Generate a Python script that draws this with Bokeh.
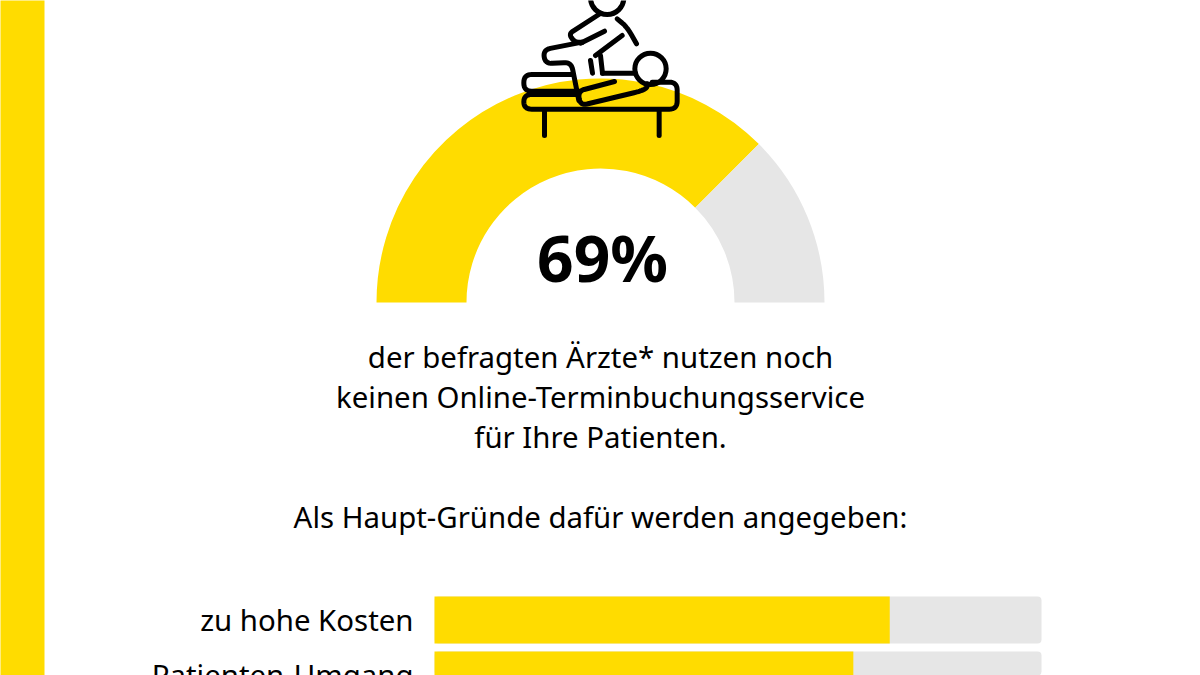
import math
from bokeh.core.properties import value
from bokeh.embed import file_html
from bokeh.models import ColumnDataSource, Range1d
from bokeh.plotting import figure
from bokeh.resources import INLINE

# ---- data ----
gauge_label = "69%"
gauge_shares = [75, 25]          # share of the half circle as drawn
body_lines = [
    "der befragten Ärzte* nutzen noch",
    "keinen Online-Terminbuchungsservice",
    "für Ihre Patienten.",
]
subhead = "Als Haupt-Gründe dafür werden angegeben:"
categories = ["zu hohe Kosten", "Patienten-Umgang"]
bar_values = [75, 69]
bar_totals = [100, 100]

# ---- styling / layout ----
YELLOW = "#FFDC00"
GREY = "#E6E6E6"
INK = "#000000"
FONT = value("Noto Sans")
W, H = 1200, 675
CX, CY_PX, R_OUT, R_IN = 600, 302, 224, 134
BAR_LEFT, BAR_RIGHT = 434, 1041
ROW0_PX, ROW_STEP, BAR_PX = 619.5, 55, 47
BODY_SIZE = "29.4px"


def up(py):
    return H - py


p = figure(width=W, height=H, output_backend="svg", toolbar_location=None,
           x_range=Range1d(0, W), y_range=Range1d(0, H),
           min_border=0, outline_line_color=None)
p.axis.visible = False
p.grid.visible = False
p.background_fill_color = "white"

# scales for the bars: percent on x, row number on y
px_per_pct = (BAR_RIGHT - BAR_LEFT) / 100
p.extra_x_ranges["pct"] = Range1d((0 - BAR_LEFT) / px_per_pct, (W - BAR_LEFT) / px_per_pct)
p.extra_y_ranges["row"] = Range1d((H - ROW0_PX) / ROW_STEP, (0 - ROW0_PX) / ROW_STEP)

# left strip
p.quad(left=[-5], right=[44], bottom=[-5], top=[H + 5], fill_color=YELLOW, line_color=None)

# gauge
angles = [math.pi]
for s in gauge_shares:
    angles.append(angles[-1] - math.pi * s / sum(gauge_shares))
gauge = ColumnDataSource(dict(start=angles[1:], end=angles[:-1], color=[YELLOW, GREY]))
p.annular_wedge(x=CX, y=up(CY_PX), inner_radius=R_IN, outer_radius=R_OUT,
                start_angle="start", end_angle="end", fill_color="color", line_color=None, source=gauge)


# icon: line drawing, given in a 3x grid whose origin is (500, 0)
def rounded(pts, r):
    out = [pts[0]]
    for a, b, c in zip(pts, pts[1:], pts[2:]):
        d1, d2 = math.dist(a, b), math.dist(b, c)
        t1, t2 = min(r, d1 / 2) / d1, min(r, d2 / 2) / d2
        s = (b[0] + (a[0] - b[0]) * t1, b[1] + (a[1] - b[1]) * t1)
        e = (b[0] + (c[0] - b[0]) * t2, b[1] + (c[1] - b[1]) * t2)
        for i in range(9):
            u = i / 8
            out.append(((1 - u) ** 2 * s[0] + 2 * u * (1 - u) * b[0] + u * u * e[0],
                        (1 - u) ** 2 * s[1] + 2 * u * (1 - u) * b[1] + u * u * e[1]))
    out.append(pts[-1])
    return out


def ic(pts):
    return [500 + a / 3 for a, _ in pts], [up(b / 3) for _, b in pts]


icon_paths = [
    ([(295, 42), (205, 100), (222, 125), (245, 125)], 14),
    ([(245, 125), (128, 148), (134, 190), (212, 185), (235, 300)], 22),
    ([(350, 55), (380, 80), (408, 130)], 30),
    ([(312, 92), (240, 128)], 1),
    ([(365, 105), (285, 165)], 1),
    ([(270, 180), (276, 218)], 1),
    ([(300, 165), (306, 218)], 1),
    ([(306, 218), (405, 218)], 1),
    ([(218, 222), (70, 222), (70, 272), (240, 272)], 24),
    ([(235, 282), (70, 282), (70, 326), (530, 326), (530, 245), (455, 245)], 24),
    ([(342, 243), (232, 272), (240, 315), (420, 272), (440, 262), (440, 250)], 20),
    ([(132, 330), (132, 405)], 1),
    ([(476, 330), (476, 405)], 1),
]
xs, ys = zip(*[ic(rounded(path, r)) for path, r in icon_paths])
p.multi_line(list(xs), list(ys), line_color=INK, line_width=5, line_cap="round", line_join="round")
for zx, zy, zr in [(320, -8, 50), (450, 205, 47)]:
    hx, hy = ic([(zx, zy)])
    p.circle(x=hx, y=hy, radius=zr / 3, fill_color=None, line_color=INK, line_width=5)

# texts
p.text(x=[CX + 2], y=[up(257)], text=[gauge_label], text_font=FONT, text_font_style="bold",
       text_font_size="64px", text_color=INK, text_align="center", text_baseline="middle")
LINE_Y = [356, 396, 436, 516]
p.text(x=[CX] * 4, y=[up(v) for v in LINE_Y], text=body_lines + [subhead], text_font=FONT,
       text_font_size=BODY_SIZE, text_color=INK, text_align="center", text_baseline="middle")

# bars
rows = list(range(len(categories)))
bars = ColumnDataSource(dict(row=rows, cat=categories, value=bar_values, total=bar_totals))
height = BAR_PX / ROW_STEP
p.hbar(y="row", left=0, right="total", height=height, source=bars, x_range_name="pct", y_range_name="row",
       fill_color=GREY, line_color=None, border_radius=4)
p.hbar(y="row", left=0, right="value", height=height, source=bars, x_range_name="pct", y_range_name="row",
       fill_color=YELLOW, line_color=None)
p.text(x=0, y="row", text="cat", source=bars, x_range_name="pct", y_range_name="row", x_offset=-21,
       text_font=FONT, text_font_size=BODY_SIZE, text_color=INK, text_align="right", text_baseline="middle")

open("out.html", "w").write(file_html(p, INLINE))
